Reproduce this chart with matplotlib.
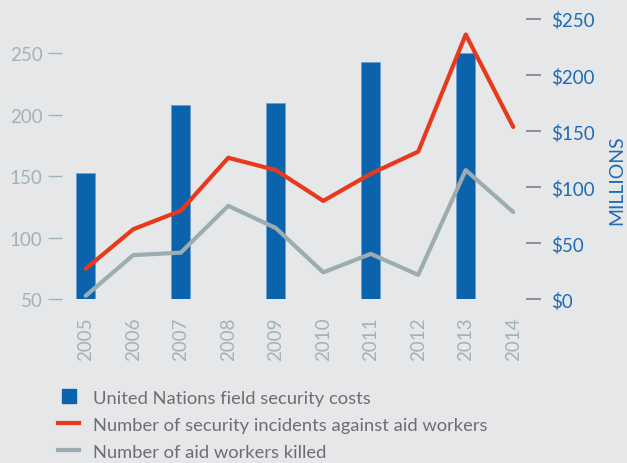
import matplotlib
matplotlib.use("Agg")
import matplotlib.pyplot as plt
from matplotlib.lines import Line2D

# data
years = [2005, 2006, 2007, 2008, 2009, 2010, 2011, 2012, 2013, 2014]
bar_years = [2005, 2007, 2009, 2011, 2013]
un_costs = [113, 173, 175, 212, 220]  # $ millions
incidents = [75, 107, 122, 165, 155, 130, 152, 170, 265, 190]
killed = [53, 86, 88, 126, 108, 72, 87, 70, 155, 121]

labels = ["United Nations field security costs",
          "Number of security incidents against aid workers",
          "Number of aid workers killed"]

BG = "#e6e7e8"
BLUE = "#0c63ad"
RED = "#e8391c"
GREY = "#9badb0"
TXT_GREY = "#a2b3b5"

plt.rcParams['font.family'] = ['Lato', 'DejaVu Sans']

fig = plt.figure(figsize=(6.27, 4.64), dpi=100, facecolor=BG)
ax = fig.add_axes([0.0989, 0.3524, 0.7401, 0.6045])
ax.set_facecolor(BG)
ax2 = ax.twinx()

# bars on the right (millions) axis
ax2.bar(bar_years, un_costs, width=0.4, color=BLUE, edgecolor="#6f9fd0", linewidth=0.6, zorder=1)
ax2.set_ylim(0, 250)
ax2.set_yticks([0, 50, 100, 150, 200, 250])
ax2.set_yticklabels(["$0", "$50", "$100", "$150", "$200", "$250"])
ax2.tick_params(axis="y", colors="#7d7f82", labelcolor="#1f6cb5", length=11, width=1.2,
                pad=7, labelsize=13.5)
ax2.set_ylabel("MILLIONS", color="#1f6cb5", fontsize=14)
ax2.yaxis.set_label_coords(1.177, 0.43)

# lines on the left axis, drawn above the bars
ax3 = ax.twinx()
ax3.plot(years, incidents, color=RED, lw=3, solid_capstyle="round", zorder=3)
ax3.plot(years, killed, color=GREY, lw=3, solid_capstyle="round", zorder=2)
ax3.set_ylim(50, 277.6)
ax3.set_yticks([])
for s in ax3.spines.values():
    s.set_visible(False)

ax.set_ylim(50, 277.6)
ax.set_yticks([50, 100, 150, 200, 250])
ax.tick_params(axis="y", colors=TXT_GREY, length=10, width=1, pad=4, labelsize=13.5)
ax.set_xlim(2004.5, 2014.27)
ax.set_xticks(years)
ax.set_xticklabels([str(y) for y in years], rotation=90)
ax.tick_params(axis="x", colors=TXT_GREY, length=0, pad=12, labelsize=13.5)

for a in (ax, ax2):
    for s in a.spines.values():
        s.set_visible(False)

handles = [Line2D([], [], color=BLUE, marker="s", markersize=9.5, linestyle="none"),
           Line2D([], [], color=RED, lw=3),
           Line2D([], [], color=GREY, lw=3)]
fig.legend(handles, labels, loc="upper left", bbox_to_anchor=(0.0925, 0.158),
           frameon=False, fontsize=13.2, labelcolor="#6d6e71", handlelength=1.15,
           handletextpad=0.75, labelspacing=0.6, borderpad=0, borderaxespad=0)

fig.savefig("out.png", dpi=100, facecolor=BG)
